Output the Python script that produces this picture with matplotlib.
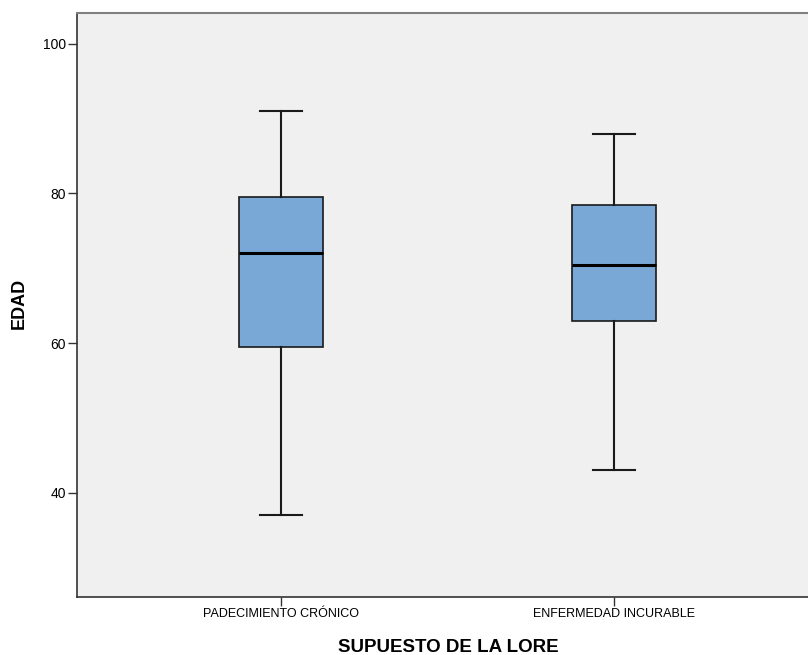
import matplotlib
matplotlib.use("Agg")
import matplotlib.pyplot as plt

plt.rcParams['font.family'] = ['Liberation Sans', 'DejaVu Sans']

categories = ["PADECIMIENTO CRÓNICO", "ENFERMEDAD INCURABLE"]
whislo = [37, 43]
q1 = [59.5, 63]
med = [72, 70.5]
q3 = [79.5, 78.5]
whishi = [91, 88]
yticks = [40, 60, 80, 100]

stats = []
for i, c in enumerate(categories):
    stats.append(dict(label=c, whislo=whislo[i], q1=q1[i], med=med[i], q3=q3[i], whishi=whishi[i], fliers=[]))

fig = plt.figure(figsize=(8.08, 6.55), dpi=100)
W, H = 808, 655
ax = fig.add_axes([77 / W, 1 - 597 / H, (818 - 77) / W, (597 - 13) / H])
ax.set_facecolor('#F0F0F0')

ax.bxp(stats, positions=[1, 2], widths=0.252, patch_artist=True, showfliers=False,
       boxprops=dict(facecolor='#79A7D6', edgecolor='#1a1a1a', linewidth=1.2),
       medianprops=dict(color='black', linewidth=2.2),
       whiskerprops=dict(color='#1a1a1a', linewidth=1.5),
       capprops=dict(color='#1a1a1a', linewidth=1.5),
       capwidths=0.126)

ax.set_xlim(1 - 204 / 333, 2 + 204 / 333)
ax.set_ylim(26.1, 104.1)
ax.set_yticks(yticks)
ax.set_yticklabels([str(v) for v in yticks], fontsize=10)
ax.set_xticks([1, 2])
ax.set_xticklabels(categories, fontsize=9)
ax.tick_params(axis='both', length=6.5, width=1, color='#333333', pad=1.5)

for s in ['left', 'bottom']:
    ax.spines[s].set_color('#333333')
    ax.spines[s].set_linewidth(1.2)
ax.spines['top'].set_color('#808080')
ax.spines['top'].set_linewidth(1.5)
ax.spines['right'].set_visible(False)

ax.set_ylabel('EDAD', fontsize=13, fontweight='bold')
ax.set_xlabel('SUPUESTO DE LA LORE', fontsize=13.5, fontweight='bold')
ax.yaxis.set_label_coords((19 - 77) / (818 - 77), 0.5 * 1 + (597 - 13 - 2 * (597 - 303)) / (2 * (597 - 13)) * 0, transform=ax.transAxes)
ax.yaxis.label.set_verticalalignment('center')
ax.xaxis.set_label_coords((448 - 77) / (818 - 77), -(647 - 597) / (597 - 13))
ax.xaxis.label.set_verticalalignment('center')
ax.yaxis.set_label_coords((19 - 77) / (818 - 77), (597 - 303) / (597 - 13))

fig.savefig('out.png', dpi=100, facecolor='white')
